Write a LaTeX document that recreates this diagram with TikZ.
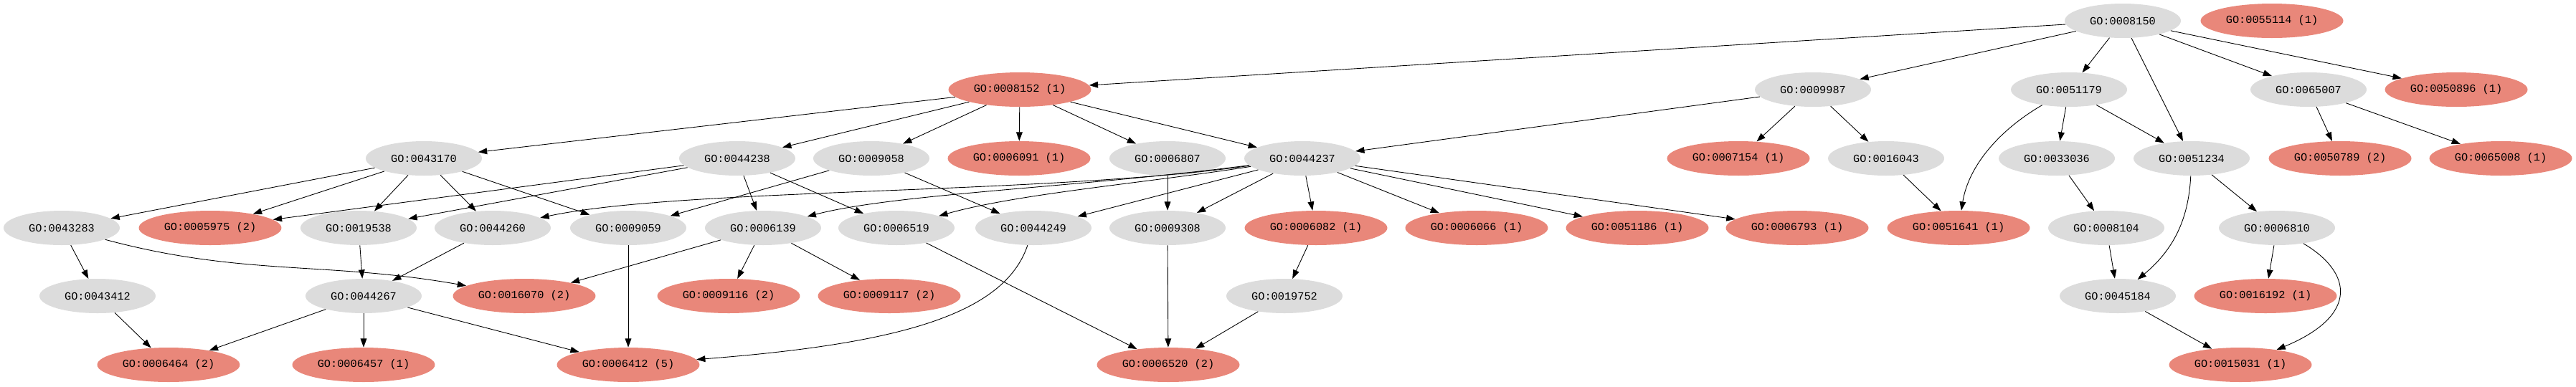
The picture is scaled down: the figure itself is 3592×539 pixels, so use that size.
\documentclass[tikz,border=0pt]{standalone}
\usepackage{fontspec}
\newfontfamily\gofont{Liberation Mono}
\usetikzlibrary{shapes.geometric,arrows.meta}
\definecolor{termgray}{RGB}{220,220,220}
\definecolor{hitred}{RGB}{233,135,122}
\tikzset{
  term/.style={ellipse,fill=termgray,inner sep=0pt,minimum width=3.24cm,minimum height=0.96cm,
               font=\gofont\fontsize{8.7}{10}\selectfont},
  hit/.style={term,fill=hitred,minimum width=3.98cm},
  link/.style={-{Triangle[length=7pt,width=5pt]},line width=0.5pt},
}

\begin{document}
\begin{tikzpicture}[x=0.02cm,y=-0.02cm]
\useasboundingbox (0,0) rectangle (3592,539);
% terms without genes
\foreach \id/\x/\y in {0008150/2960/29, 0009987/2528/125, 0051179/2885/125, 0065007/3219/125,
    0043170/591/221, 0044238/1028/221, 0009058/1215/221, 0006807/1628/221, 0044237/1816/221,
    0016043/2630/221, 0033036/2868/221, 0051234/3056/221,
    0043283/86/318, 0019538/500/318, 0044260/687/318, 0009059/876/318, 0006139/1064/318,
    0006519/1250/318, 0044249/1441/318, 0009308/1628/318, 0008104/2937/318, 0006810/3175/318,
    0043412/136/413, 0044267/507/413, 0019752/1791/413, 0045184/2953/413} {
    \node[term] (n\id) at (\x,\y) {GO:\id};
}
% terms with genes
\foreach \id/\x/\y/\c in {0055114/3168/29/1, 0008152/1422/125/1, 0050896/3425/125/1,
    0006091/1421/221/1, 0007154/2424/221/1, 0050789/3263/221/2, 0065008/3487/221/1,
    0005975/293/318/2, 0006082/1835/318/1, 0006066/2059/318/1, 0051186/2283/318/1,
    0006793/2506/318/1, 0051641/2731/318/1,
    0016070/731/413/2, 0009116/1016/413/2, 0009117/1240/413/2, 0016192/3159/413/1,
    0006464/235/509/2, 0006457/507/509/1, 0006412/876/509/5, 0006520/1629/509/2,
    0015031/3124/509/1} {
    \node[hit] (n\id) at (\x,\y) {GO:\id\ (\c)};
}
% straight links
\foreach \a/\b in {0008150/0008152, 0008150/0009987, 0008150/0051179, 0008150/0051234,
    0008150/0065007, 0008150/0050896,
    0008152/0043170, 0008152/0044238, 0008152/0009058, 0008152/0006091, 0008152/0006807,
    0008152/0044237,
    0009987/0044237, 0009987/0007154, 0009987/0016043,
    0051179/0033036, 0051179/0051234, 0065007/0050789, 0065007/0065008,
    0043170/0043283, 0043170/0005975, 0043170/0019538, 0043170/0044260, 0043170/0009059,
    0044238/0005975, 0044238/0019538, 0044238/0006139, 0044238/0006519,
    0009058/0009059, 0009058/0044249, 0006807/0009308,
    0044237/0044249, 0044237/0009308, 0044237/0006082, 0044237/0006066, 0044237/0051186,
    0044237/0006793,
    0016043/0051641, 0033036/0008104, 0051234/0006810,
    0043283/0043412, 0019538/0044267, 0044260/0044267, 0009059/0006412,
    0006139/0016070, 0006139/0009116, 0006139/0009117,
    0006519/0006520, 0009308/0006520, 0006082/0019752, 0008104/0045184, 0006810/0016192,
    0043412/0006464, 0044267/0006464, 0044267/0006457, 0044267/0006412,
    0019752/0006520, 0045184/0015031} {
    \draw[link] (n\a) -- (n\b);
}
% bent links
\draw[link] (n0051179) .. controls (2790,180) and (2745,230) .. (n0051641);
\draw[link] (n0044237) .. controls (1450,272) and (950,262) .. (n0044260);
\draw[link] (n0044237) .. controls (1500,262) and (1250,270) .. (n0006139);
\draw[link] (n0044237) .. controls (1600,255) and (1420,270) .. (n0006519);
\draw[link] (n0043283) to[out=-15,in=170] (n0016070);
\draw[link] (n0044249) .. controls (1400,440) and (1250,480) .. (n0006412);
\draw[link] (n0051234) .. controls (3052,300) and (3035,345) .. (n0045184);
\draw[link] (n0006810) .. controls (3280,380) and (3290,440) .. (n0015031);
\end{tikzpicture}
\end{document}
